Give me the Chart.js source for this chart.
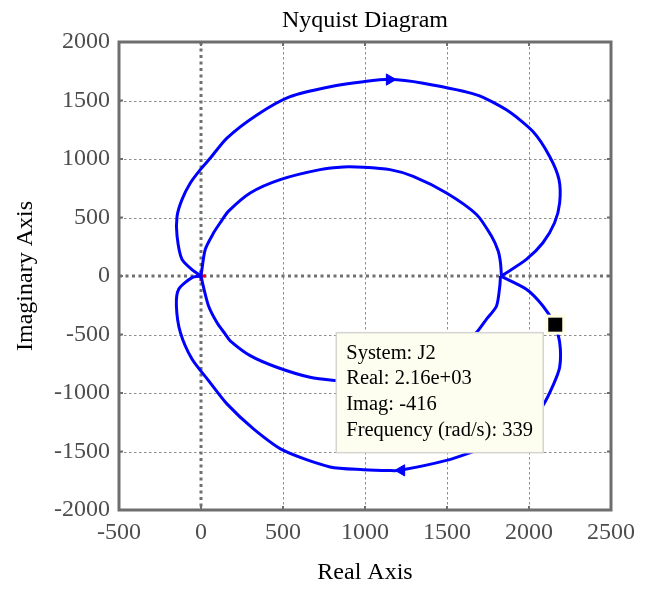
<!DOCTYPE html>
<html>
<head>
<meta charset="utf-8">
<title>Nyquist Diagram</title>
<script src="https://cdn.jsdelivr.net/npm/chart.js@4.4.0/dist/chart.umd.min.js"></script>
<style>
  html, body { margin: 0; padding: 0; background: #ffffff; }
  #wrap { width: 650px; height: 589px; }
</style>
</head>
<body>
<div id="wrap"><canvas id="nyq" width="650" height="589"></canvas></div>
<script>
// G(jw) split into four arcs that meet at the origin and at the right crossing point
const innerLowerRe = [0, 16, 46, 97, 148, 178, 300, 462, 665, 817, 990, 1152, 1294, 1497, 1680, 1741, 1802, 1822, 1826];
const innerLowerIm = [0, -99, -256, -397, -497, -554, -681, -780, -866, -894, -912, -895, -842, -700, -482, -369, -256, -85, 0];

const outerLowerRe = [1826, 1984, 2085, 2150, 2187, 2187, 2146, 2085, 2010, 1870, 1680, 1497, 1213, 1152, 990, 787, 503, 320, 158, 46, -55, -126, -150, -136, -55, 0];
const outerLowerIm = [0, -113, -256, -400, -567, -780, -937, -1107, -1240, -1395, -1491, -1576, -1661, -1663, -1655, -1632, -1491, -1306, -1093, -894, -710, -482, -256, -113, -14, 0];

const outerUpperRe = [0, -45, -116, -146, -146, -116, -65, -4, 57, 158, 341, 543, 787, 990, 1152, 1355, 1680, 1862, 2024, 2126, 2183, 2187, 2156, 2085, 1984, 1832];
const outerUpperIm = [0, 43, 142, 341, 511, 653, 795, 909, 1008, 1179, 1377, 1533, 1618, 1661, 1681, 1647, 1548, 1420, 1235, 1022, 824, 625, 455, 284, 142, 0];

const innerUpperRe = [1832, 1826, 1812, 1771, 1680, 1497, 1294, 1152, 990, 868, 726, 483, 300, 168, 117, 77, 26, 0];
const innerUpperIm = [0, 114, 213, 341, 526, 710, 852, 909, 929, 932, 909, 824, 710, 554, 455, 369, 227, 0];

// direction arrows along the curve (angle in degrees, 90 = pointing right)
const arrowRe = [1150, 1222];
const arrowIm = [1679, -1661];
const arrowAngle = [90, -90];

// critical point -1 + j0
const criticalRe = [-1];
const criticalIm = [0];

// data tip
const tipSystem = 'J2';
const tipRe = [2160];
const tipIm = [-416];
const tipFreq = 339;

const xTicks = [-500, 0, 500, 1000, 1500, 2000, 2500];
const yTicks = [-2000, -1500, -1000, -500, 0, 500, 1000, 1500, 2000];

const SERIF = "'Liberation Serif', 'Times New Roman', serif";

function pts(xs, ys) { return xs.map((v, i) => ({ x: v, y: ys[i] })); }

// MATLAB-like %.3g formatting
function fmt3g(v) {
  const a = Math.abs(v);
  if (a !== 0 && (a >= 1000 || a < 1e-4)) {
    const [m, e] = v.toExponential(2).split('e');
    const n = parseInt(e, 10);
    return m + 'e' + (n < 0 ? '-' : '+') + String(Math.abs(n)).padStart(2, '0');
  }
  return String(Number(v.toPrecision(3)));
}

// title centred over the plot box
const boxTitle = {
  id: 'boxTitle',
  afterDraw(chart) {
    const { ctx, chartArea: a } = chart;
    ctx.save();
    ctx.fillStyle = '#000000';
    ctx.font = '24px ' + SERIF;
    ctx.textAlign = 'center';
    ctx.textBaseline = 'alphabetic';
    ctx.fillText('Nyquist Diagram', (a.left + a.right) / 2, 27);
    ctx.restore();
  }
};

// grid, zero lines, box frame and inward tick marks
const axesFrame = {
  id: 'axesFrame',
  beforeDatasetsDraw(chart) {
    const { ctx, chartArea: a, scales: { x, y } } = chart;
    const line = (x1, y1, x2, y2) => { ctx.beginPath(); ctx.moveTo(x1, y1); ctx.lineTo(x2, y2); ctx.stroke(); };
    ctx.save();
    ctx.lineWidth = 1;
    ctx.strokeStyle = '#8c8c8c';
    ctx.setLineDash([2.5, 2.5]);
    xTicks.forEach(v => {
      if (v === 0 || v === xTicks[0] || v === xTicks[xTicks.length - 1]) return;
      const p = Math.round(x.getPixelForValue(v)) + 0.5;
      line(p, a.top, p, a.bottom);
    });
    yTicks.forEach(v => {
      if (v === 0 || v === yTicks[0] || v === yTicks[yTicks.length - 1]) return;
      const p = Math.round(y.getPixelForValue(v)) + 0.5;
      line(a.left, p, a.right, p);
    });
    // zero lines
    ctx.lineWidth = 3;
    ctx.strokeStyle = '#707070';
    ctx.setLineDash([3, 3.5]);
    const x0 = x.getPixelForValue(0), y0 = y.getPixelForValue(0);
    line(x0, a.top, x0, a.bottom);
    line(a.left, y0, a.right, y0);
    // frame
    ctx.setLineDash([]);
    ctx.lineWidth = 3;
    ctx.strokeStyle = '#6e6e6e';
    ctx.strokeRect(a.left, a.top, a.right - a.left, a.bottom - a.top);
    // inward ticks
    ctx.lineWidth = 2;
    const tl = 4;
    xTicks.forEach(v => {
      const p = x.getPixelForValue(v);
      line(p, a.bottom, p, a.bottom - tl);
      line(p, a.top, p, a.top + tl);
    });
    yTicks.forEach(v => {
      const p = y.getPixelForValue(v);
      line(a.left, p, a.left + tl, p);
      line(a.right, p, a.right - tl, p);
    });
    ctx.restore();
  }
};

// data tip: marked point plus text box
const dataTip = {
  id: 'dataTip',
  afterDatasetsDraw(chart) {
    const { ctx, scales: { x, y } } = chart;
    const px = x.getPixelForValue(tipRe[0]);
    const py = y.getPixelForValue(tipIm[0]);
    const w = 207, h = 120;
    const right = px - 12, top = py + 8;
    const left = right - w;
    ctx.save();
    ctx.fillStyle = '#fefef0';
    ctx.fillRect(left, top, w, h);
    ctx.lineWidth = 1.5;
    ctx.strokeStyle = '#d4d4d0';
    ctx.strokeRect(left, top, w, h);
    ctx.fillStyle = '#000000';
    ctx.font = '20.5px ' + SERIF;
    ctx.textBaseline = 'alphabetic';
    ctx.textAlign = 'left';
    const lines = [
      'System: ' + tipSystem,
      'Real: ' + fmt3g(tipRe[0]),
      'Imag: ' + fmt3g(tipIm[0]),
      'Frequency (rad/s): ' + fmt3g(tipFreq)
    ];
    lines.forEach((t, i) => ctx.fillText(t, left + 10, top + 26 + i * 25.8));
    // marker square
    ctx.fillStyle = '#fffde2';
    ctx.fillRect(px - 10, py - 10, 20, 20);
    ctx.fillStyle = '#000000';
    ctx.fillRect(px - 7, py - 7, 14, 14);
    ctx.restore();
  }
};

const arc = (label, xs, ys) => ({
  label,
  data: pts(xs, ys),
  showLine: true,
  borderColor: '#0000ff',
  borderWidth: 3,
  borderJoinStyle: 'round',
  pointRadius: 0,
  tension: 0.25,
  fill: false
});

new Chart(document.getElementById('nyq'), {
  type: 'scatter',
  data: {
    datasets: [
      arc('inner lower', innerLowerRe, innerLowerIm),
      arc('outer lower', outerLowerRe, outerLowerIm),
      arc('outer upper', outerUpperRe, outerUpperIm),
      arc('inner upper', innerUpperRe, innerUpperIm),
      {
        label: 'direction',
        data: pts(arrowRe, arrowIm),
        showLine: false,
        pointStyle: 'triangle',
        pointRadius: 6.5,
        pointRotation: arrowAngle,
        pointBackgroundColor: '#0000ff',
        pointBorderColor: '#0000ff',
        pointBorderWidth: 1
      },
      {
        label: 'critical',
        data: pts(criticalRe, criticalIm),
        showLine: false,
        pointStyle: 'cross',
        pointRadius: 5,
        pointBorderColor: '#ff0000',
        pointBorderWidth: 3
      }
    ]
  },
  options: {
    responsive: false,
    devicePixelRatio: 1,
    animation: false,
    events: [],
    layout: { padding: { left: 0, right: 39, top: 42, bottom: 0 } },
    plugins: {
      legend: { display: false },
      tooltip: { enabled: false },
      title: { display: false }
    },
    scales: {
      x: {
        type: 'linear',
        min: xTicks[0],
        max: xTicks[xTicks.length - 1],
        afterBuildTicks: s => { s.ticks = xTicks.map(v => ({ value: v })); },
        afterFit: s => { s.height = 79; },
        grid: { display: false, drawTicks: false },
        border: { display: false },
        ticks: {
          color: '#4d4d4d',
          font: { family: SERIF, size: 24 },
          padding: 8,
          maxRotation: 0,
          autoSkip: false,
          callback: v => String(v)
        },
        title: {
          display: true,
          text: 'Real Axis',
          color: '#000000',
          font: { family: SERIF, size: 24 },
          padding: { top: 0, bottom: 2 }
        }
      },
      y: {
        type: 'linear',
        min: yTicks[0],
        max: yTicks[yTicks.length - 1],
        afterBuildTicks: s => { s.ticks = yTicks.map(v => ({ value: v })); },
        afterFit: s => { s.width = 119; },
        grid: { display: false, drawTicks: false },
        border: { display: false },
        ticks: {
          color: '#4d4d4d',
          font: { family: SERIF, size: 24 },
          padding: 9,
          autoSkip: false,
          callback: v => String(v)
        },
        title: {
          display: true,
          text: 'Imaginary Axis',
          color: '#000000',
          font: { family: SERIF, size: 24 },
          padding: { top: 11, bottom: 0 }
        }
      }
    }
  },
  plugins: [axesFrame, dataTip, boxTitle]
});
</script>
</body>
</html>
